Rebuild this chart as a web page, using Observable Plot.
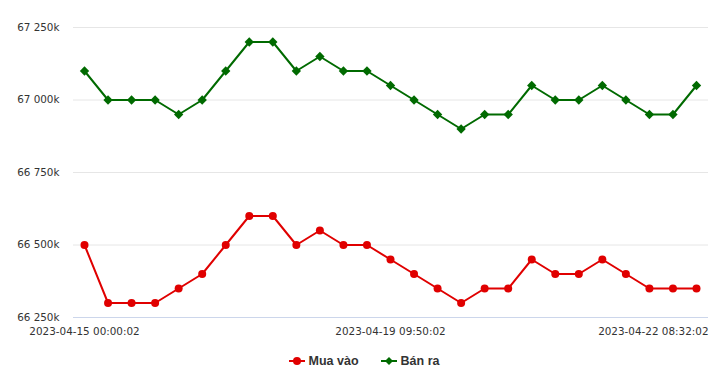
<!DOCTYPE html>
<html>
<head>
<meta charset="utf-8">
<script src="https://cdn.jsdelivr.net/npm/d3@7"></script>
<script src="https://cdn.jsdelivr.net/npm/@observablehq/plot@0.6"></script>
<style>
  body { margin: 0; background: #fff; }
  #chart { width: 720px; }
  .legend { display: flex; justify-content: center; gap: 22px; font: bold 12.5px "Liberation Sans", Arial, sans-serif; color: #333; margin-top: 9px; padding-left: 8px; }
  .legend span { display: inline-flex; align-items: center; gap: 4px; }
</style>
</head>
<body>
<div id="chart"></div>
<script>
const seriesNames = ["Mua vào", "Bán ra"];
const seriesColors = ["#e00000", "#006a00"];
const buyValues = [66500, 66300, 66300, 66300, 66350, 66400, 66500, 66600, 66600, 66500, 66550, 66500, 66500, 66450, 66400, 66350, 66300, 66350, 66350, 66450, 66400, 66400, 66450, 66400, 66350, 66350, 66350];
const sellValues = [67100, 67000, 67000, 67000, 66950, 67000, 67100, 67200, 67200, 67100, 67150, 67100, 67100, 67050, 67000, 66950, 66900, 66950, 66950, 67050, 67000, 67000, 67050, 67000, 66950, 66950, 67050];
const xLabelIndex = [0, 13, 26];
const xLabels = ["2023-04-15 00:00:02", "2023-04-19 09:50:02", "2023-04-22 08:32:02"];
const yTicks = [66250, 66500, 66750, 67000, 67250];

const rows = [
  ...buyValues.map((v, i) => ({i, v, s: seriesNames[0]})),
  ...sellValues.map((v, i) => ({i, v, s: seriesNames[1]}))
];
const buyRows = rows.filter(d => d.s === seriesNames[0]);
const sellRows = rows.filter(d => d.s === seriesNames[1]);
const yFmt = v => d3.format(",")(v).replace(",", " ") + "k";
const labelOf = i => xLabels[xLabelIndex.indexOf(i)];

const chart = Plot.plot({
  width: 720,
  height: 345,
  marginTop: 27,
  marginBottom: 28,
  marginLeft: 73,
  marginRight: 12,
  style: {fontFamily: "'DejaVu Sans', Verdana, sans-serif", fontSize: "10.4px", color: "#333"},
  x: {domain: [0, buyValues.length - 1], insetLeft: 11, insetRight: 12, axis: null},
  y: {domain: [66250, 67250], axis: null},
  marks: [
    Plot.gridY(yTicks, {stroke: "#e6e6e6", strokeOpacity: 1}),
    Plot.ruleY([yTicks[0]], {stroke: "#ccd6eb"}),
    Plot.axisY(yTicks, {tickSize: 0, tickPadding: 14, tickFormat: yFmt, fill: "#333", label: null}),
    Plot.axisX(xLabelIndex.slice(0, 2), {tickSize: 0, tickPadding: 10, tickFormat: labelOf, fill: "#333", label: null}),
    Plot.axisX(xLabelIndex.slice(2), {tickSize: 0, tickPadding: 10, tickFormat: labelOf, textAnchor: "end", dx: 12, fill: "#333", label: null}),
    Plot.line(buyRows, {x: "i", y: "v", stroke: seriesColors[0], strokeWidth: 2}),
    Plot.line(sellRows, {x: "i", y: "v", stroke: seriesColors[1], strokeWidth: 2}),
    Plot.dot(buyRows, {x: "i", y: "v", fill: seriesColors[0], r: 4, symbol: "circle"}),
    Plot.dot(sellRows, {x: "i", y: "v", fill: seriesColors[1], r: 4.2, symbol: "diamond2"})
  ]
});
document.getElementById("chart").append(chart);

const legend = document.createElement("div");
legend.className = "legend";
seriesNames.forEach((name, k) => {
  const item = document.createElement("span");
  const marker = k === 0
    ? `<circle cx="8" cy="6" r="4" fill="${seriesColors[k]}"/>`
    : `<path d="M8 2 L12 6 L8 10 L4 6 Z" fill="${seriesColors[k]}"/>`;
  item.innerHTML = `<svg width="16" height="12"><line x1="0" x2="16" y1="6" y2="6" stroke="${seriesColors[k]}" stroke-width="2"/>${marker}</svg>`;
  item.append(document.createTextNode(name));
  legend.append(item);
});
document.getElementById("chart").append(legend);
</script>
</body>
</html>
